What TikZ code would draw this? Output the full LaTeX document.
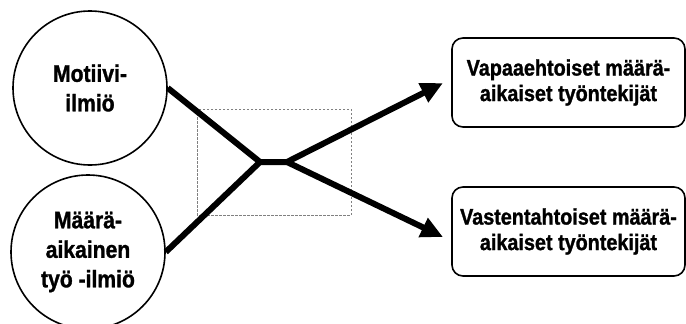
\documentclass[tikz,border=0pt]{standalone}
\usepackage{fontspec}
\setmainfont{Liberation Sans}[FakeStretch=0.88,BoldFeatures={FakeBold=1.2}]
\usetikzlibrary{arrows.meta}
\begin{document}
\begin{tikzpicture}[x=1pt,y=-1pt,
  phen/.style={circle,draw,line width=1.6pt,minimum size=154pt,inner sep=0pt,align=center,
    font=\bfseries\fontsize{24}{29.5}\selectfont},
  group/.style={rectangle,rounded corners=11pt,draw,line width=1.6pt,minimum width=233pt,minimum height=89pt,
    inner sep=0pt,align=center,font=\bfseries\fontsize{22.5}{25.5}\selectfont},
  flow/.style={line width=6pt,line cap=butt,line join=miter},
  flowarrow/.style={flow,-{Triangle[length=22pt,width=20pt]}},
  frame/.style={draw=gray,line width=0.7pt,dash pattern=on 2.5pt off 1.5pt}]
\useasboundingbox (0,0) rectangle (686,324);
\clip (0,0) rectangle (686,324);
\node[phen] (c1) at (90,88) {Motiivi-\\ilmiö};
\node[phen] (c2) at (88,252) {Määrä-\\aikainen\\työ -ilmiö};
\node[group] (b1) at (568.5,82.5) {Vapaaehtoiset määrä-\\aikaiset työntekijät};
\node[group] (b2) at (568.5,231.5) {Vastentahtoiset määrä-\\aikaiset työntekijät};
\coordinate (j1) at (260,162);
\coordinate (j2) at (287,162);
\coordinate (t1) at (443,83);
\coordinate (t2) at (443,237);
\coordinate (f1) at (197,109);
\coordinate (f2) at (351,215);
\draw[frame] (f1) rectangle (f2);
\draw[flow] (c1.east) -- (j1) -- (j2);
\draw[flow] (c2.east) -- (j1);
\draw[flowarrow] (j2) -- (t1);
\draw[flowarrow] (j2) -- (t2);
\end{tikzpicture}
\end{document}
